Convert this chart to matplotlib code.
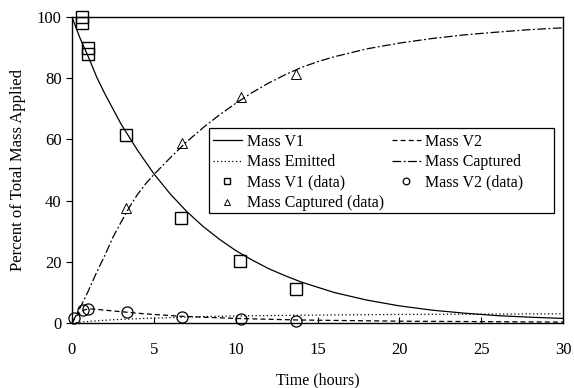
import numpy as np
import matplotlib
matplotlib.use("Agg")
import matplotlib.pyplot as plt
from matplotlib.patches import Rectangle

plt.rcParams['font.family'] = ['Liberation Serif', 'DejaVu Serif']

# model curves
t_v1 = [0, 0.5, 1, 1.5, 2, 3, 4, 5, 6, 7, 8, 9, 10, 11, 12, 13, 14, 16, 18, 20, 22, 24, 26, 28, 30]
v1 = [100, 93, 87, 80.5, 75, 65, 56.5, 48.8, 42.2, 36.5, 31.6, 27.4, 23.7, 20.6, 17.8, 15.5, 13.4,
      10, 7.5, 5.6, 4.2, 3.2, 2.4, 1.9, 1.5]

t_v2 = [0, 0.3, 0.7, 1, 1.5, 2, 3, 4, 5, 6.7, 8, 10, 13.7, 16, 20, 25, 30]
v2 = [0, 2.5, 4.2, 4.6, 4.5, 4.2, 3.7, 3.2, 2.8, 2.2, 1.9, 1.5, 1.0, 0.85, 0.6, 0.45, 0.3]

t_em = [0, 1, 2, 3, 5, 8, 10, 15, 20, 25, 30]
emitted = [0, 0.5, 0.9, 1.2, 1.6, 2.1, 2.3, 2.6, 2.8, 2.9, 3.0]

t_cap = [0, 0.5, 1, 1.5, 2, 2.5, 3, 3.5, 4, 4.5, 5, 6, 7, 8, 9, 10, 11, 12, 13, 14, 15, 16,
         18, 20, 22, 24, 26, 28, 30]
captured = [0, 5, 10.5, 16.5, 22, 28, 33, 37.8, 42, 45.5, 48.5, 54, 59.2, 63.8, 68, 71.8, 75.3,
            78.4, 81.1, 83.5, 85.4, 87, 89.6, 91.5, 93, 94.2, 95.1, 95.9, 96.5]

# measured data
t_v1_data = [0.6, 0.6, 1.0, 1.0, 3.3, 6.65, 10.25, 13.7]
v1_data = [100, 98, 90, 88, 61.4, 34.3, 20.2, 11]

t_v2_data = [0.1, 0.7, 1.0, 3.35, 6.7, 10.3, 13.7]
v2_data = [1.6, 4.2, 4.6, 3.6, 2.0, 1.3, 0.8]

t_cap_data = [3.3, 6.7, 10.3, 13.7]
cap_data = [37.5, 59, 73.8, 81.3]

fig = plt.figure(figsize=(5.74, 3.88), dpi=100)
ax = fig.add_axes([0.1254, 0.1675, 0.8556, 0.7885])

ax.plot(t_v1, v1, color='black', lw=0.9, label='Mass V1')
ax.plot(t_em, emitted, color='black', lw=0.9, ls=(0, (1, 2)), label='Mass Emitted')
ax.plot(t_v1_data, v1_data, ls='none', marker='s', ms=8, mfc='none', mec='black',
        mew=1.0, label='Mass V1 (data)', clip_on=False)
ax.plot(t_cap_data, cap_data, ls='none', marker='^', ms=7, mfc='none', mec='black',
        mew=0.7, label='Mass Captured (data)')
ax.plot(t_v2, v2, color='black', lw=0.9, ls=(0, (4, 2.5)), label='Mass V2')
ax.plot(t_cap, captured, color='black', lw=0.9, ls=(0, (7, 2, 1.5, 2)), label='Mass Captured')
ax.plot(t_v2_data, v2_data, ls='none', marker='o', ms=8, mfc='none', mec='black',
        mew=0.9, label='Mass V2 (data)', clip_on=False)

ax.set_xlim(0, 30)
ax.set_ylim(0, 100)
ax.set_xticks([0, 5, 10, 15, 20, 25, 30])
ax.set_yticks([0, 20, 40, 60, 80, 100])
ax.tick_params(axis='x', direction='in', length=4, labelsize=12, pad=14)
ax.tick_params(axis='y', direction='out', length=4, labelsize=12)
for s in ax.spines.values():
    s.set_linewidth(1.0)

ax.set_xlabel('Time (hours)', fontsize=11.5, labelpad=10)
ax.set_ylabel('Percent of Total Mass Applied', fontsize=12, labelpad=8)

# legend box drawn separately (wider than the entries)
box = Rectangle((0.279, 0.359), 0.703, 0.278, transform=ax.transAxes, facecolor='white',
                edgecolor='black', lw=0.9, zorder=4.5)
ax.add_patch(box)
leg = ax.legend(ncol=2, loc='upper left', bbox_to_anchor=(0.276, 0.637),
                borderaxespad=0, frameon=False,
                fontsize=11.5, handlelength=1.8, handletextpad=0.3, columnspacing=0.5,
                labelspacing=0.28, markerscale=0.6, borderpad=0.35)
leg.set_zorder(5)

fig.savefig('out.png', dpi=100)
